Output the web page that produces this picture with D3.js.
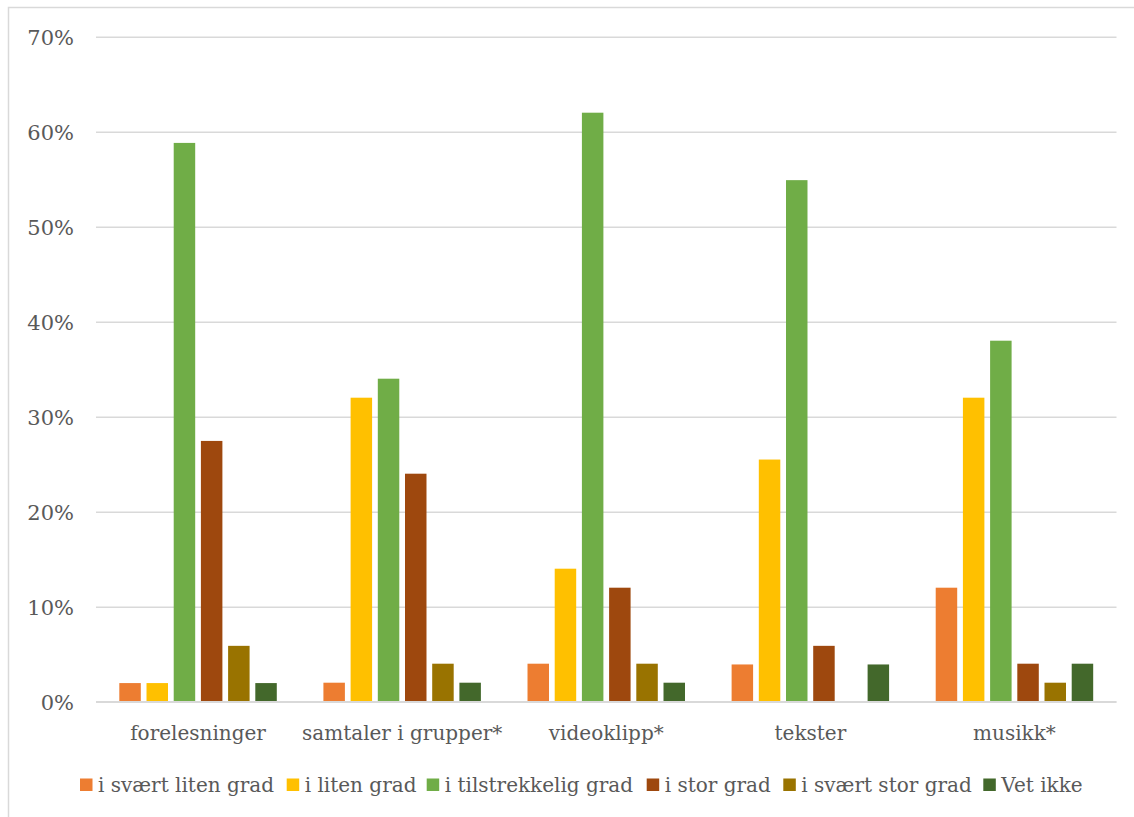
<!DOCTYPE html>
<html>
<head>
<meta charset="utf-8">
<script src="https://cdn.jsdelivr.net/npm/d3@7"></script>
<style>
  html, body { margin: 0; padding: 0; background: #fff; }
  svg { display: block; }
  text { font-family: "DejaVu Serif", "Liberation Serif", serif; fill: #595959; }
</style>
</head>
<body>
<svg id="chart" width="1134" height="817"></svg>
<script>
// Categories and response series (percent of respondents)
const categories = ["forelesninger", "samtaler i grupper*", "videoklipp*", "tekster", "musikk*"];
const seriesNames = ["i svært liten grad", "i liten grad", "i tilstrekkelig grad", "i stor grad", "i svært stor grad", "Vet ikke"];
const seriesColors = ["#ED7D31", "#FFC000", "#70AD47", "#9E480E", "#997300", "#43682B"];

const sværtLiten     = [1.96, 2, 4, 3.92, 12];
const liten          = [1.96, 32, 14, 25.49, 32];
const tilstrekkelig  = [58.82, 34, 62, 54.9, 38];
const stor           = [27.45, 24, 12, 5.88, 4];
const sværtStor      = [5.88, 4, 4, 0, 2];
const vetIkke        = [1.96, 2, 2, 3.92, 4];

const yTicks = [0, 10, 20, 30, 40, 50, 60, 70];

const seriesValues = [sværtLiten, liten, tilstrekkelig, stor, sværtStor, vetIkke];

const svg = d3.select("#chart");

// outer chart frame
svg.append("rect")
  .attr("x", 8.5).attr("y", 7.5)
  .attr("width", 1300).attr("height", 900)
  .attr("fill", "none").attr("stroke", "#D9D9D9").attr("stroke-width", 1.5);

const plot = { left: 96, right: 1116.5, top: 36.7, bottom: 701.7 };

const y = d3.scaleLinear().domain([0, 70]).range([plot.bottom, plot.top]);
const x0 = d3.scaleBand().domain(categories).range([plot.left, plot.right]).paddingInner(0).paddingOuter(0);
const x1 = d3.scaleBand().domain(seriesNames)
  .range([0, x0.bandwidth()])
  .paddingInner(0.21).paddingOuter(0.857);

// grid lines
const grid = svg.append("g")
  .attr("transform", `translate(${plot.left},0)`)
  .call(d3.axisLeft(y).tickValues(yTicks).tickSize(-(plot.right - plot.left)).tickFormat(""));
grid.select(".domain").remove();
grid.selectAll(".tick line").attr("stroke", "#D9D9D9").attr("stroke-width", 1.5);

// y labels
const yAxis = svg.append("g")
  .attr("transform", `translate(74,0)`)
  .call(d3.axisLeft(y).tickValues(yTicks).tickSize(0).tickPadding(0).tickFormat(d => d + "%"));
yAxis.select(".domain").remove();
yAxis.selectAll("text")
  .attr("font-family", "'DejaVu Serif', serif")
  .attr("font-size", 21)
  .attr("fill", "#595959")
  .attr("dy", "0.35em");

// bars
const groups = svg.append("g").selectAll("g")
  .data(categories)
  .join("g")
  .attr("transform", d => `translate(${x0(d)},0)`);

groups.selectAll("rect")
  .data((c, ci) => seriesNames.map((s, si) => ({ s, si, v: seriesValues[si][ci] })).filter(d => d.v > 0))
  .join("rect")
  .attr("x", d => x1(d.s))
  .attr("y", d => y(d.v))
  .attr("width", x1.bandwidth())
  .attr("height", d => y(0) - y(d.v))
  .attr("fill", d => seriesColors[d.si]);

// x labels
const xAxis = svg.append("g")
  .attr("transform", `translate(0,${plot.bottom})`)
  .call(d3.axisBottom(x0).tickSize(0).tickPadding(0));
xAxis.select(".domain").remove();
xAxis.selectAll("text")
  .attr("font-family", "'DejaVu Serif', serif")
  .attr("font-size", 20)
  .attr("fill", "#595959")
  .attr("dy", "0")
  .attr("y", 38.5);

// redraw baseline on top of bars
svg.append("line")
  .attr("x1", plot.left).attr("x2", plot.right)
  .attr("y1", y(0)).attr("y2", y(0))
  .attr("stroke", "#D9D9D9").attr("stroke-width", 1.5);

// legend
const legendX = [80, 286.7, 426.7, 646.7, 783.3, 983.3];
const legend = svg.append("g").selectAll("g")
  .data(seriesNames)
  .join("g")
  .attr("transform", (d, i) => `translate(${legendX[i]},778.5)`);
legend.append("rect")
  .attr("width", 12.5).attr("height", 12.5)
  .attr("fill", (d, i) => seriesColors[i]);
legend.append("text")
  .attr("x", 18).attr("y", 13)
  .attr("font-size", 20)
  .text(d => d);
</script>
</body>
</html>
